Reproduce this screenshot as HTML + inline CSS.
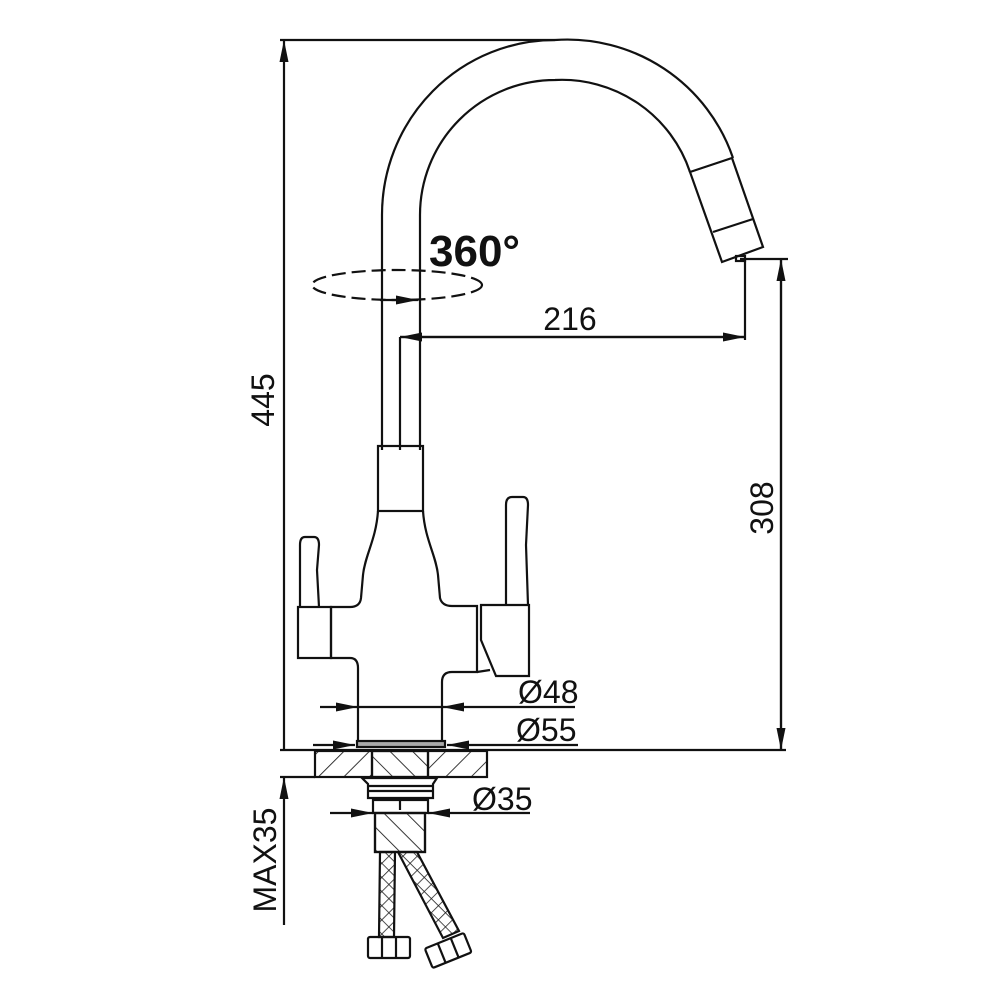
<!DOCTYPE html>
<html><head><meta charset="utf-8"><style>
html,body{margin:0;padding:0;background:#fff;}
svg{display:block;}
text{font-family:"Liberation Sans",sans-serif;fill:#111;}
</style></head><body>
<svg width="1000" height="1000" viewBox="0 0 1000 1000" xmlns="http://www.w3.org/2000/svg">
<defs>
<marker id="a" viewBox="0 0 22 9" refX="22" refY="4.5" markerWidth="22" markerHeight="9" markerUnits="userSpaceOnUse" orient="auto"><path d="M0,0 L22,4.5 L0,9 Z" fill="#111"/></marker>
<pattern id="h1" width="18" height="18" patternUnits="userSpaceOnUse" patternTransform="rotate(45)"><line x1="0" y1="0" x2="0" y2="18" stroke="#222" stroke-width="1.8"/></pattern>
<pattern id="h2" width="16" height="16" patternUnits="userSpaceOnUse" patternTransform="rotate(-45)"><line x1="0" y1="0" x2="0" y2="16" stroke="#222" stroke-width="1.8"/></pattern>
<pattern id="x" width="10" height="10" patternUnits="userSpaceOnUse" patternTransform="rotate(45)"><line x1="0" y1="0" x2="0" y2="10" stroke="#222" stroke-width="1.6"/><line x1="0" y1="0" x2="10" y2="0" stroke="#222" stroke-width="1.6"/></pattern>
</defs>
<g fill="none" stroke="#111" stroke-width="2.2">
<line x1="280" y1="40" x2="555" y2="40"/>
<line x1="284" y1="750" x2="284" y2="40" marker-end="url(#a)"/>
<path d="M382,450 L382,215 A173,175 0 0 1 555,40 A175,175 0 0 1 733,158"/>
<path d="M420,450 L420,215 A135,135 0 0 1 555,80 A135,135 0 0 1 690,172"/>
<path d="M690,172 L732,158 L763,247 L722,262 Z"/>
<line x1="713" y1="232" x2="753" y2="219"/>
<rect x="736" y="256" width="9" height="5"/>
<line x1="400" y1="337" x2="400" y2="450"/>
<rect x="378" y="446" width="45" height="65"/>
<path d="M378,511 C376,540 365,555 363,575 L361,598 Q360,607 350,607 L331,607 L331,658 L350,658 Q358,658 358,668 L358,742"/>
<path d="M423,511 C425,540 436,555 438,575 L440,598 Q442,606 452,606 L477,606 L477,672 L452,672 Q442,672 442,682 L442,742"/>
<path d="M300,607 L300,545 Q300,537 305,537 L314,537 Q319,537 319,545 L317,570 L319,607"/>
<rect x="298" y="607" width="33" height="51"/>
<path d="M506,605 L506,505 Q506,497 512,497 L523,497 Q528,497 528,505 L526,545 L528,605"/>
<path d="M481,605 L529,605 L529,676 L496,676 L481,640 Z"/>
<line x1="477" y1="672" x2="490" y2="670"/>
<ellipse cx="397" cy="285" rx="85" ry="15" stroke-dasharray="14,6"/>
<line x1="380" y1="300" x2="418" y2="300" marker-end="url(#a)"/>
<line x1="745" y1="258" x2="745" y2="340"/>
<line x1="745" y1="337" x2="400" y2="337" marker-end="url(#a)"/>
<line x1="400" y1="337" x2="745" y2="337" marker-end="url(#a)"/>
<line x1="740" y1="259" x2="788" y2="259"/>
<line x1="781" y1="750" x2="781" y2="259" marker-end="url(#a)"/>
<line x1="781" y1="259" x2="781" y2="750" marker-end="url(#a)"/>
<line x1="280" y1="750" x2="786" y2="750"/>
<line x1="320" y1="707" x2="358" y2="707" marker-end="url(#a)"/>
<line x1="575" y1="707" x2="442" y2="707" marker-end="url(#a)"/>
<line x1="358" y1="707" x2="442" y2="707"/>
<rect x="357" y="741" width="88" height="6" fill="#aaa"/>
<line x1="313" y1="745" x2="355" y2="745" marker-end="url(#a)"/>
<line x1="578" y1="745" x2="447" y2="745" marker-end="url(#a)"/>
<rect x="315" y="751" width="172" height="26" fill="url(#h1)"/>
<rect x="372" y="751" width="56" height="26" fill="#fff"/>
<rect x="372" y="751" width="56" height="26" fill="url(#h2)"/>
<line x1="280" y1="777" x2="315" y2="777"/>
<path d="M362,778 L437,778 L433,784 L433,798 L368,798 L368,784 Z" fill="#fff"/>
<line x1="368" y1="786" x2="433" y2="786"/><line x1="368" y1="791" x2="433" y2="791"/>
<rect x="373" y="800" width="55" height="13"/>
<line x1="400" y1="800" x2="400" y2="810"/>
<line x1="330" y1="813" x2="373" y2="813" marker-end="url(#a)"/>
<line x1="530" y1="813" x2="428" y2="813" marker-end="url(#a)"/>
<rect x="375" y="813" width="50" height="39" fill="url(#h2)"/>
<rect x="375" y="813" width="50" height="39"/>
<path d="M380,852 L395,852 L394,937 L379,937 Z" fill="url(#x)"/>
<path d="M398,852 L417,852 L459,931 L443,938 Z" fill="url(#x)"/>
<rect x="368" y="937" width="42" height="21" rx="2"/>
<line x1="382" y1="937" x2="382" y2="958"/><line x1="396" y1="937" x2="396" y2="958"/>
<g transform="rotate(-22 448 950)"><rect x="427" y="940" width="42" height="21" rx="2"/><line x1="441" y1="940" x2="441" y2="961"/><line x1="455" y1="940" x2="455" y2="961"/></g>
<line x1="284" y1="925" x2="284" y2="777" marker-end="url(#a)"/>
</g>
<text x="429" y="266" font-size="44" font-weight="bold">360°</text>
<text x="570" y="330" font-size="32" text-anchor="middle">216</text>
<text transform="translate(274,400) rotate(-90)" font-size="32" text-anchor="middle">445</text>
<text transform="translate(773,508) rotate(-90)" font-size="32" text-anchor="middle">308</text>
<text x="518" y="703" font-size="32">Ø48</text>
<text x="516" y="741" font-size="32">Ø55</text>
<text x="472" y="810" font-size="32">Ø35</text>
<text transform="translate(276,860) rotate(-90)" font-size="32" text-anchor="middle">MAX35</text>
</svg>
</body></html>
